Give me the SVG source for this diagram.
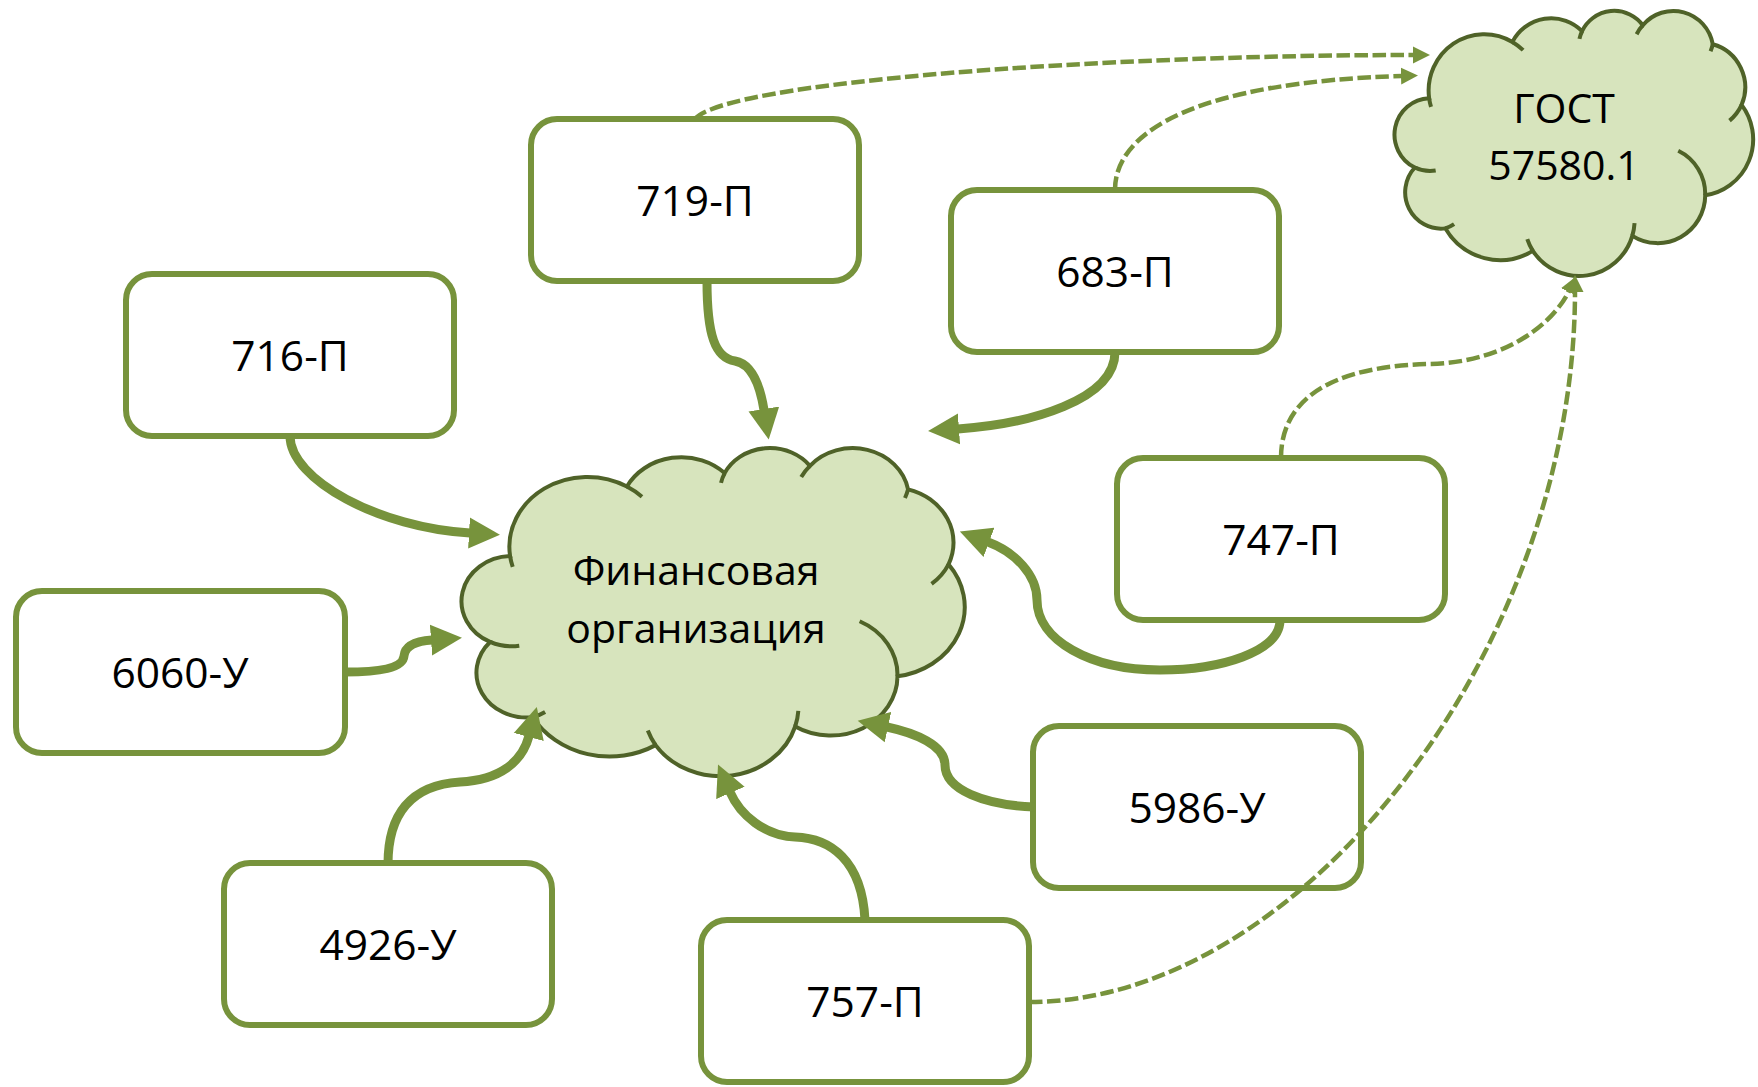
<svg xmlns="http://www.w3.org/2000/svg" width="1758" height="1087" viewBox="0 0 1758 1087">
<defs>
<style>
.box rect{fill:#fff;stroke:#77933C;stroke-width:6}
.lbl{font-family:"Open Sans","Liberation Sans",sans-serif;font-size:41px;fill:#000;text-anchor:middle}
.box .lbl{font-size:42.5px}
.body{fill:#D7E4BD;stroke:#4F6228;stroke-width:4;vector-effect:non-scaling-stroke}
.deco{fill:none;stroke:#4F6228;stroke-width:4;vector-effect:non-scaling-stroke}
.solid{fill:none;stroke:#77933C;stroke-width:9;marker-end:url(#arrowBig)}
.dash{fill:none;stroke:#77933C;stroke-width:4.5;stroke-dasharray:13.5 4.5;marker-end:url(#arrowSmall)}
</style>
<marker id="arrowBig" markerUnits="userSpaceOnUse" markerWidth="32" markerHeight="32" viewBox="0 -16 32 32" refX="1" refY="0" orient="auto">
<path d="M0,-15.5 L31,0 L0,15.5 Z" fill="#77933C"/>
</marker>
<marker id="arrowSmall" markerUnits="userSpaceOnUse" markerWidth="18" markerHeight="18" viewBox="0 -9 18 18" refX="1" refY="0" orient="auto">
<path d="M0,-8.5 L17,0 L0,8.5 Z" fill="#77933C"/>
</marker>
</defs>

<g id="node-716" class="box"><rect x="126" y="274" width="328" height="162" rx="26"/><text class="lbl" x="290" y="371">716-П</text></g>
<g id="node-719" class="box"><rect x="531" y="119" width="328" height="162" rx="26"/><text class="lbl" x="695" y="216">719-П</text></g>
<g id="node-683" class="box"><rect x="951" y="190" width="328" height="162" rx="26"/><text class="lbl" x="1115" y="287">683-П</text></g>
<g id="node-747" class="box"><rect x="1117" y="458" width="328" height="162" rx="26"/><text class="lbl" x="1281" y="555">747-П</text></g>
<g id="node-6060" class="box"><rect x="16" y="591" width="329" height="162" rx="26"/><text class="lbl" x="180" y="688">6060-У</text></g>
<g id="node-4926" class="box"><rect x="224" y="863" width="328" height="162" rx="26"/><text class="lbl" x="388" y="960">4926-У</text></g>
<g id="node-757" class="box"><rect x="701" y="920" width="328" height="162" rx="26"/><text class="lbl" x="865" y="1017">757-П</text></g>
<g id="node-5986" class="box"><rect x="1033" y="726" width="328" height="162" rx="26"/><text class="lbl" x="1197" y="823">5986-У</text></g>

<g id="node-fin">
<g transform="translate(465,447) scale(0.011563,0.0075926)">
<path class="body" d="M3900,14370 A6753,9190 0 0 1 14005,5202 A5333,7267 0 0 1 22456,3432 A4365,5945 0 0 1 29833,2481 A4857,6595 0 0 1 38318,5576 A5333,7273 0 0 1 41818,15460 A6775,9220 0 0 1 37404,30203 A5785,7867 0 0 1 28556,36813 A6752,9215 0 0 1 16480,39264 A7720,10543 0 0 1 5859,35597 A4360,5918 0 0 1 2167,25675 A4345,5945 0 0 1 3900,14370 Z"/>
<path class="deco" d="M4693,26177 A4345,5945 0 0 1 2167,25675 M6928,34899 A4360,5918 0 0 1 5859,35597 M16480,39264 A6752,9215 0 0 1 15810,37350 M28827,34751 A6752,9215 0 0 1 28556,36813 M34129,22954 A5785,7867 0 0 1 37404,30203 M41818,15460 A5333,7273 0 0 1 40350,18030 M38318,5576 A4857,6595 0 0 1 38051,6715 M29078,3952 A4857,6595 0 0 1 29833,2481 M22141,4720 A4365,5945 0 0 1 22456,3432 M14005,5202 A6753,9190 0 0 1 15305,6550 M4127,15789 A6753,9190 0 0 1 3900,14370"/>
</g>
<text class="lbl" x="696" y="585">Финансовая</text>
<text class="lbl" x="696" y="643">организация</text>
</g>

<g id="node-gost">
<g transform="translate(1397,10) scale(0.0082407,0.0061343)">
<path class="body" d="M3900,14370 A6753,9190 0 0 1 14005,5202 A5333,7267 0 0 1 22456,3432 A4365,5945 0 0 1 29833,2481 A4857,6595 0 0 1 38318,5576 A5333,7273 0 0 1 41818,15460 A6775,9220 0 0 1 37404,30203 A5785,7867 0 0 1 28556,36813 A6752,9215 0 0 1 16480,39264 A7720,10543 0 0 1 5859,35597 A4360,5918 0 0 1 2167,25675 A4345,5945 0 0 1 3900,14370 Z"/>
<path class="deco" d="M4693,26177 A4345,5945 0 0 1 2167,25675 M6928,34899 A4360,5918 0 0 1 5859,35597 M16480,39264 A6752,9215 0 0 1 15810,37350 M28827,34751 A6752,9215 0 0 1 28556,36813 M34129,22954 A5785,7867 0 0 1 37404,30203 M41818,15460 A5333,7273 0 0 1 40350,18030 M38318,5576 A4857,6595 0 0 1 38051,6715 M29078,3952 A4857,6595 0 0 1 29833,2481 M22141,4720 A4365,5945 0 0 1 22456,3432 M14005,5202 A6753,9190 0 0 1 15305,6550 M4127,15789 A6753,9190 0 0 1 3900,14370"/>
</g>
<text class="lbl" x="1564" y="123">ГОСТ</text>
<text class="lbl" x="1564" y="180">57580.1</text>
</g>

<g id="connectors">
<path class="solid" d="M290,436 C290,480 380,528 470,533"/>
<path class="solid" d="M707,281 C707,335 715,358 735,361 C752,364 760,385 764,410"/>
<path class="solid" d="M1115,352 C1115,400 1030,424 958,429"/>
<path class="solid" d="M1280,620 C1280,652 1220,670 1160,670 C1090,670 1037,640 1037,600 C1037,575 1015,552 988,542"/>
<path class="solid" d="M345,672 C380,672 403,668 404,656 C405,645 418,641 432,640"/>
<path class="solid" d="M388,864 C388,815 410,785 460,782 C500,780 522,762 529,736"/>
<path class="solid" d="M865,920 C862,860 830,838 795,837 C765,836 740,815 730,792"/>
<path class="solid" d="M1034,807 C985,805 945,790 945,765 C945,745 915,733 887,727"/>
<path class="dash" d="M695,119 C725,82 1100,55 1414,55"/>
<path class="dash" d="M1115,190 C1115,130 1200,82 1402,76"/>
<path class="dash" d="M1281,458 C1281,400 1330,366 1430,364 C1510,362 1555,320 1569,291"/>
<path class="dash" d="M1029,1002 C1303,1002 1575,646 1575,291"/>
</g>
</svg>
